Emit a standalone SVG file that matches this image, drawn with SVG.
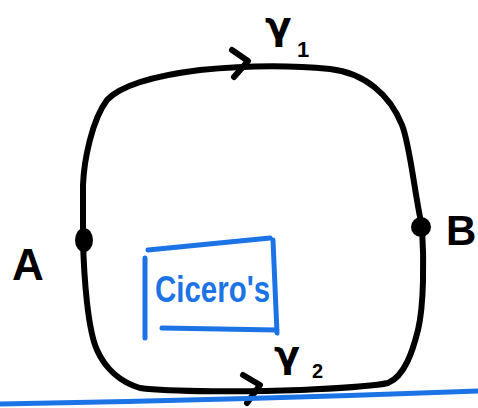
<svg xmlns="http://www.w3.org/2000/svg" width="478" height="408" viewBox="0 0 478 408">
<style>
.ink{fill:none;stroke:#000;stroke-width:6;stroke-linecap:round;stroke-linejoin:round}
.blue{fill:none;stroke:#1b73e6;stroke-width:5;stroke-linecap:round;stroke-linejoin:round}
.lbl{font-family:"Liberation Sans",Arial,sans-serif;font-weight:bold;fill:#000}
.gam{font-family:"DejaVu Sans",sans-serif;font-weight:bold;fill:#000}
</style>
<rect width="478" height="408" fill="#fff"/>
<g id="connectors">
  <g id="gamma1">
    <path class="ink" d="M83,240 L83,185 C84,160 92,120 107,100 C122,84 160,75 200,70 C240,66 290,65 330,69 C365,73 390,95 402,125 C410,145 414,190 422,227"/>
    <path class="ink" d="M232,50 L248,61 L234,77"/>
    <text class="gam" x="265" y="39" font-size="39">γ</text>
    <text class="lbl" x="297" y="57" font-size="22">1</text>
  </g>
  <g id="gamma2">
    <path class="ink" d="M83,240 C84,280 88,330 97,350 C105,368 120,382 140,388 C170,392 250,392 300,390 C340,388 370,387 388,383 C405,376 413,350 418,330 C424,305 424,260 422,227"/>
    <path class="ink" d="M243,375 L260,385 L247,403"/>
    <text class="gam" x="274" y="367" font-size="38">γ</text>
    <text class="lbl" x="312" y="378" font-size="20">2</text>
  </g>
</g>
<g id="A">
  <ellipse cx="84" cy="240" rx="9" ry="12" fill="#000"/>
  <text class="lbl" x="12" y="280" font-size="44">A</text>
</g>
<g id="B">
  <ellipse cx="421" cy="227" rx="10" ry="10" fill="#000"/>
  <text class="lbl" x="446" y="245" font-size="42">B</text>
</g>
<g id="ciceros">
  <path class="blue" d="M148,250 L270,238 M273,240 L277,333 M277,330 L162,328 M145,258 L145,338"/>
  <text x="155" y="302" font-size="36" textLength="115" lengthAdjust="spacingAndGlyphs" font-family="Liberation Sans, Arial, sans-serif" font-weight="bold" fill="#1b73e6">Cicero's</text>
</g>
<path class="blue" d="M0,404 Q240,400 478,391"/>
</svg>
